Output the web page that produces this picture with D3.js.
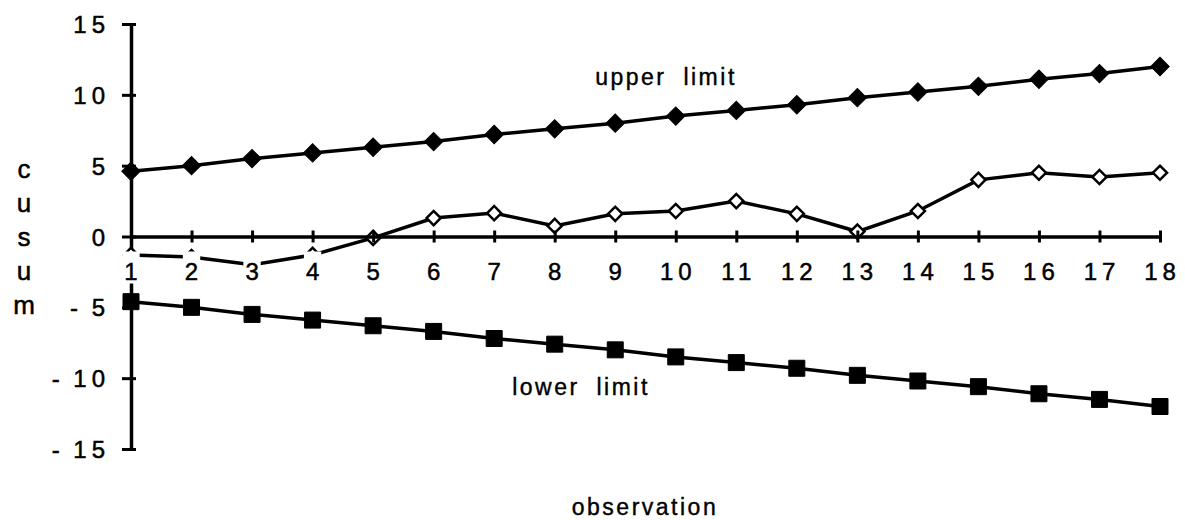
<!DOCTYPE html>
<html>
<head>
<meta charset="utf-8">
<script src="https://cdn.jsdelivr.net/npm/d3@7"></script>
<style>
  body { margin: 0; background: #fff; }
  svg { font-family: "Liberation Sans", Arial, sans-serif; }
</style>
</head>
<body>
<svg id="chart" width="1185" height="520"></svg>
<script>
// Data
const observations = d3.range(1, 19);
const upperLimit = [4.6, 5.0, 5.5, 5.9, 6.3, 6.7, 7.2, 7.6, 8.0, 8.5, 8.9, 9.3, 9.8, 10.2, 10.6, 11.1, 11.5, 12.0];
const lowerLimit = [-4.6, -5.0, -5.5, -5.9, -6.3, -6.7, -7.2, -7.6, -8.0, -8.5, -8.9, -9.3, -9.8, -10.2, -10.6, -11.1, -11.5, -12.0];
const cusum = [-1.3, -1.45, -2.0, -1.3, -0.1, 1.3, 1.65, 0.75, 1.6, 1.8, 2.5, 1.6, 0.35, 1.8, 4.0, 4.5, 4.2, 4.5];
const yTicks = [-15, -10, -5, 0, 5, 10, 15];
const yTitle = ["c", "u", "s", "u", "m"];

const svg = d3.select("#chart");

const x = d3.scaleLinear().domain([1, 18]).range([131, 1160]);
const y = d3.scaleLinear().domain([-15, 15]).range([449, 24]);

const ink = "#000";

// y axis
const yAxis = svg.append("g")
    .attr("transform", `translate(${x(1)},0)`)
    .call(d3.axisLeft(y).tickValues(yTicks).tickSizeOuter(0).tickSizeInner(9).tickPadding(12)
        .tickFormat(d => d < 0 ? "- " + Math.abs(d) : String(d)));
yAxis.select(".domain").attr("stroke", ink).attr("stroke-width", 3.5);
yAxis.selectAll(".tick line").attr("stroke", ink).attr("stroke-width", 3).attr("x2", -9).attr("x1", 5);
yAxis.selectAll(".tick text")
    .attr("font-size", 24)
    .attr("letter-spacing", "5px")
    .attr("word-spacing", "-3px")
    .attr("dy", "0.36em")
    .attr("fill", ink)
    .attr("stroke", ink).attr("stroke-width", 0.5);

// series
const line = d3.line().x((d, i) => x(observations[i])).y(d => y(d));

function drawSeries(values, shape, fill) {
    svg.append("path")
        .datum(values)
        .attr("d", line)
        .attr("fill", "none")
        .attr("stroke", ink)
        .attr("stroke-width", 3.5);
    const open = fill === "#fff";
    svg.append("g").selectAll("path")
        .data(values)
        .join("path")
        .attr("transform", (d, i) => `translate(${x(observations[i])},${y(d)})` + (shape === "diamond" ? " rotate(45)" : ""))
        .attr("d", shape === "diamond" ? (open ? "M-5,-5H5V5H-5Z" : "M-6.5,-6.5H6.5V6.5H-6.5Z") : "M-8,-8H8V8H-8Z")
        .attr("fill", fill)
        .attr("stroke", ink)
        .attr("stroke-width", open ? 2.5 : 1);
}

drawSeries(upperLimit, "diamond", ink);
drawSeries(lowerLimit, "square", ink);
drawSeries(cusum, "diamond", "#fff");

// x axis at zero
const xAxis = svg.append("g")
    .attr("transform", `translate(0,${y(0)})`)
    .call(d3.axisBottom(x).tickValues(observations).tickSizeOuter(0).tickSizeInner(6).tickFormat(d3.format("d")));
xAxis.select(".domain").attr("stroke", ink).attr("stroke-width", 3.5);
xAxis.selectAll(".tick line").attr("stroke", ink).attr("stroke-width", 3).attr("y1", -6).attr("y2", 6);
xAxis.selectAll(".tick text")
    .attr("y", 43)
    .attr("dy", 0)
    .attr("dx", "2px")
    .attr("font-size", 24)
    .attr("letter-spacing", "5px")
    .attr("fill", ink)
    .attr("stroke", ink).attr("stroke-width", 0.5);
// opaque label boxes, as in the original print
xAxis.selectAll(".tick").each(function () {
    const t = d3.select(this).select("text");
    const b = t.node().getBBox();
    d3.select(this).insert("rect", "text")
        .attr("x", b.x - 2).attr("y", 15)
        .attr("width", b.width - 1).attr("height", 32)
        .attr("fill", "#fff");
});

// labels
const label = (tx, ty, s) => svg.append("text")
    .attr("x", tx).attr("y", ty).attr("text-anchor", "middle")
    .attr("font-size", 23).attr("letter-spacing", "2.5px").attr("word-spacing", "8px")
    .attr("fill", ink).attr("stroke", ink).attr("stroke-width", 0.4)
    .text(s);
label(666, 85, "upper limit");
label(581, 395, "lower limit");
label(645, 515, "observation");

svg.append("g").selectAll("text")
    .data(yTitle)
    .join("text")
    .attr("x", 24)
    .attr("y", (d, i) => 178 + i * 34)
    .attr("text-anchor", "middle")
    .attr("font-size", 26)
    .attr("fill", ink).attr("stroke", ink).attr("stroke-width", 0.5)
    .text(d => d);
</script>
</body>
</html>
